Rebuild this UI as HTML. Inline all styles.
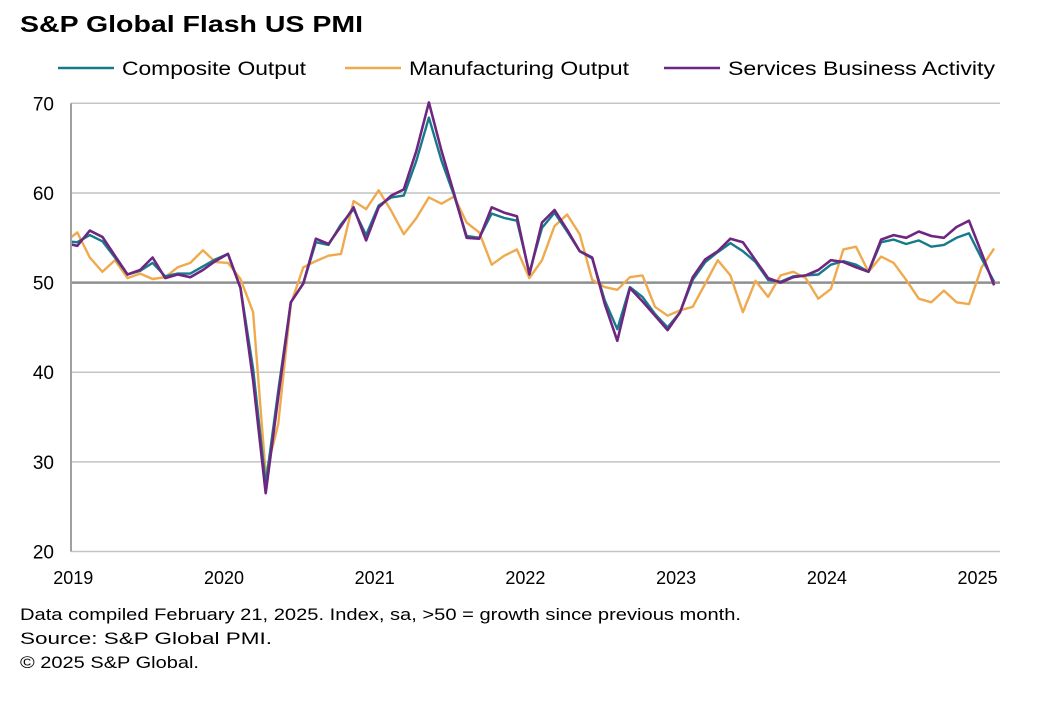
<!DOCTYPE html>
<html><head><meta charset="utf-8"><style>
body{margin:0;background:#fff;font-family:"Liberation Sans",Arial,sans-serif;}
svg{display:block}
</style></head><body>
<svg width="1048" height="703" viewBox="0 0 1048 703" xmlns="http://www.w3.org/2000/svg">
<text x="20" y="32" font-size="23" font-weight="bold" fill="#000" textLength="343" lengthAdjust="spacingAndGlyphs">S&amp;P Global Flash US PMI</text>
<g id="legend"></g>
<g id="grid"></g>
<defs><clipPath id="clip"><rect x="71" y="90" width="940" height="470"/></clipPath></defs>
<g id="series" clip-path="url(#clip)"></g>
<g id="axes"></g>
<text x="20" y="620" font-size="17" fill="#000" textLength="721" lengthAdjust="spacingAndGlyphs">Data compiled February 21, 2025. Index, sa, &gt;50 = growth since previous month.</text>
<text x="20" y="644" font-size="17" fill="#000" textLength="252" lengthAdjust="spacingAndGlyphs">Source: S&amp;P Global PMI.</text>
<text x="20" y="668" font-size="17" fill="#000" textLength="179" lengthAdjust="spacingAndGlyphs">© 2025 S&amp;P Global.</text>
</svg>
<script>
// Monthly values Dec 2018 .. Feb 2025
const composite = [54.6,54.5,55.3,54.6,52.8,50.9,51.3,52.2,50.7,51.0,51.0,51.8,52.6,53.2,49.4,40.4,27.5,37.9,47.8,49.9,54.5,54.2,56.5,58.2,55.3,58.6,59.5,59.7,63.6,68.4,63.6,59.7,55.2,55.0,57.7,57.2,56.9,51.1,56.1,57.8,55.7,53.5,52.7,48.0,44.8,49.5,48.4,46.5,45.0,46.7,50.3,52.3,53.4,54.4,53.5,52.3,50.3,50.1,50.7,50.8,50.9,52.0,52.4,52.0,51.2,54.5,54.8,54.3,54.7,54.0,54.2,55.0,55.5,52.7,50.1];
const manufacturing = [54.5,55.6,52.8,51.2,52.5,50.5,51.0,50.4,50.6,51.7,52.2,53.6,52.3,52.2,50.4,46.7,28.6,34.2,47.6,51.7,52.4,53.0,53.2,59.1,58.2,60.3,58.0,55.4,57.2,59.5,58.8,59.6,56.7,55.6,52.0,53.0,53.7,50.5,52.5,56.3,57.6,55.4,50.3,49.5,49.2,50.6,50.8,47.3,46.3,46.9,47.3,49.9,52.5,50.8,46.7,50.2,48.4,50.8,51.2,50.5,48.2,49.3,53.7,54.0,51.2,52.9,52.2,50.3,48.2,47.8,49.1,47.8,47.6,51.7,53.8];
const services = [54.4,54.1,55.8,55.1,53.0,50.9,51.4,52.8,50.5,50.9,50.6,51.4,52.4,53.2,49.4,39.1,26.5,37.2,47.8,49.9,54.9,54.3,56.3,58.4,54.7,58.4,59.7,60.4,64.7,70.1,64.7,59.9,55.0,54.9,58.4,57.8,57.4,50.9,56.7,58.1,55.9,53.5,52.8,47.6,43.5,49.4,47.9,46.3,44.7,46.7,50.6,52.6,53.5,54.9,54.5,52.5,50.5,50.0,50.6,50.8,51.4,52.5,52.3,51.7,51.2,54.8,55.3,55.0,55.7,55.2,55.0,56.2,56.9,53.3,49.7];
const yTicks = [20,30,40,50,60,70];
const yearLabels = ["2019","2020","2021","2022","2023","2024","2025"];
const seriesNames = ["Composite Output","Manufacturing Output","Services Business Activity"];
const colors = ["#167a8b","#f0aa4e","#6e2781"];

const NS="http://www.w3.org/2000/svg";
const X0=71, X1=1000, Y20=551.5, Y70=103.3;
const xScale = i => 64.7 + 12.56*i;      // i=0 -> Dec 2018
const yScale = v => Y20 - (v-20)*(Y20-Y70)/50;
function mk(tag, attrs, parent){const e=document.createElementNS(NS,tag);for(const k in attrs)e.setAttribute(k,attrs[k]);parent.appendChild(e);return e;}

const grid=document.getElementById('grid');
yTicks.forEach(t=>{
  const y=yScale(t);
  const ln=mk('line',{x1:X0,x2:X1,y1:y,y2:y,stroke:t===50?'#8f8f8f':'#c4c4c4','stroke-width':t===50?2.5:1.5},grid);
  
  
});
const axes=document.getElementById('axes');
const yax=mk('line',{x1:X0,x2:X0,y1:Y70,y2:Y20,stroke:'#a0a0a0','stroke-width':2},axes);


yTicks.forEach(t=>{
  const tx=mk('text',{x:54,y:yScale(t)+7,'font-size':19,'text-anchor':'end',fill:'#000'},axes);
  tx.textContent=t;
  
  
});
yearLabels.forEach((lab,j)=>{
  const tx=mk('text',{x:xScale(1+12*j)-4,y:584,'font-size':18,'text-anchor':'middle',fill:'#000'},axes);
  tx.textContent=lab;
  
  
});

const sg=document.getElementById('series');
[manufacturing,composite,services].forEach((arr,idx)=>{
  const ci=[1,0,2][idx];
  const pts=arr.map((v,i)=>xScale(i).toFixed(1)+','+yScale(v).toFixed(1)).join(' ');
  const pl=mk('polyline',{points:pts,fill:'none',stroke:colors[ci],'stroke-width':ci===2?2.6:2.4,'stroke-linejoin':'round'},sg);
  
  
});

const lg=document.getElementById('legend');
const lx=[58,345,664];
const lw=[184,220,267];
seriesNames.forEach((n,i)=>{
  const l=mk('line',{x1:lx[i],x2:lx[i]+56,y1:68,y2:68,stroke:colors[i],'stroke-width':2.5},lg);
  
  
  const t=mk('text',{x:lx[i]+64,y:75,'font-size':19.5,fill:'#000',textLength:lw[i],lengthAdjust:'spacingAndGlyphs'},lg);
  t.textContent=n;
  
  
});
</script>
</body></html>
